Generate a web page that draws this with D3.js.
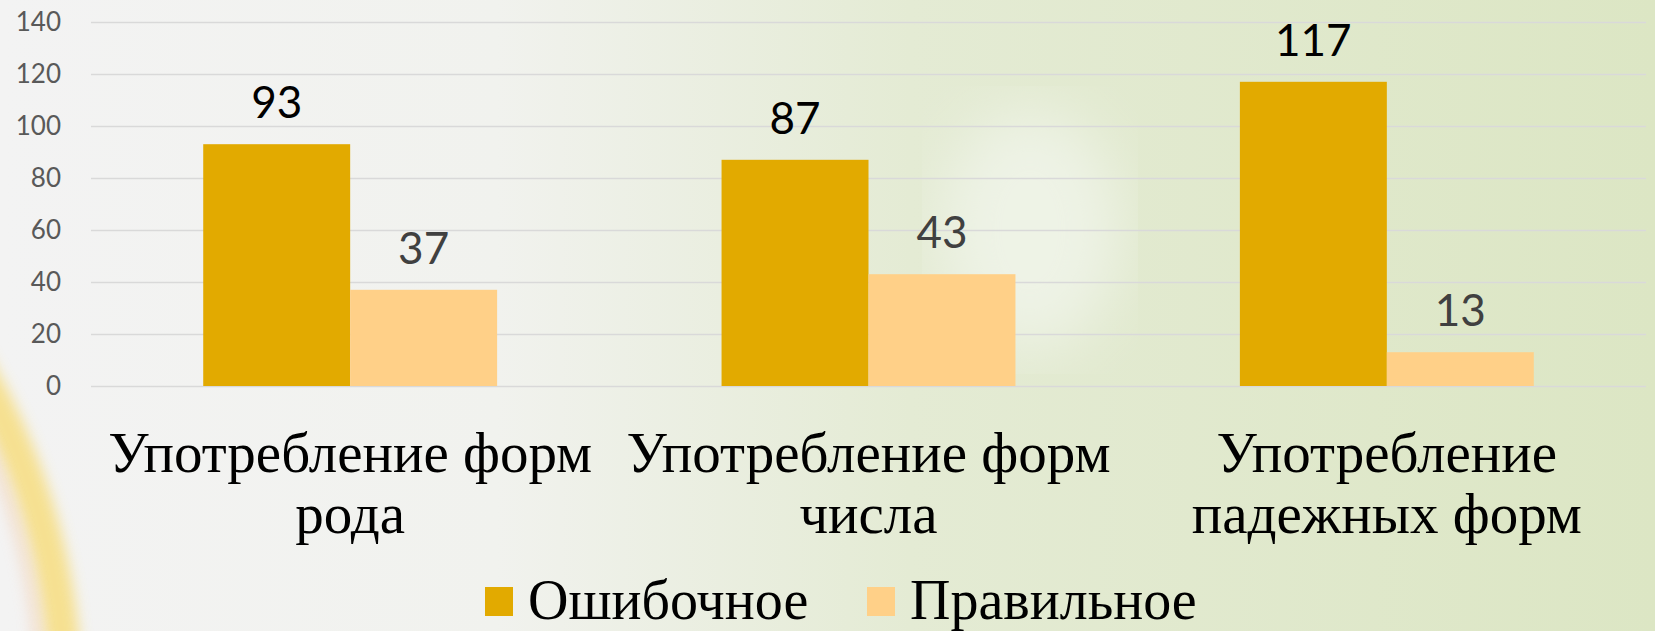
<!DOCTYPE html>
<html>
<head>
<meta charset="utf-8">
<script src="https://cdn.jsdelivr.net/npm/d3@7"></script>
<style>
  body { margin: 0; overflow: hidden; }
</style>
</head>
<body>
<div id="chart"></div>
<script>
const categories = [
  ["Употребление форм", "рода"],
  ["Употребление форм", "числа"],
  ["Употребление", "падежных форм"]
];
const seriesNames = ["Ошибочное", "Правильное"];
const errorValues = [93, 87, 117];
const correctValues = [37, 43, 13];
const yTicks = [0, 20, 40, 60, 80, 100, 120, 140];

const width = 1655, height = 631;
const margin = { top: 22, right: 9, bottom: 245, left: 91 };
const colors = ["#e2aa00", "#ffd088"];
const labelColors = ["#000000", "#404040"];

const svg = d3.select("#chart").append("svg")
  .attr("width", width)
  .attr("height", height);

// background
const defs = svg.append("defs");
const bg = defs.append("linearGradient").attr("id", "bg")
  .attr("x1", "0%").attr("x2", "100%").attr("y1", "0%").attr("y2", "0%");
bg.append("stop").attr("offset", "0%").attr("stop-color", "#f3f3f3");
bg.append("stop").attr("offset", "30%").attr("stop-color", "#f1f2ee");
bg.append("stop").attr("offset", "55%").attr("stop-color", "#e4ebd4");
bg.append("stop").attr("offset", "100%").attr("stop-color", "#dce6c4");
defs.append("filter").attr("id", "blur")
  .append("feGaussianBlur").attr("stdDeviation", 7);
defs.append("filter").attr("id", "blurBig")
  .append("feGaussianBlur").attr("stdDeviation", 30);

svg.append("rect").attr("width", width).attr("height", height).attr("fill", "url(#bg)");
svg.append("ellipse")
  .attr("cx", 1030).attr("cy", 230).attr("rx", 90).attr("ry", 120)
  .attr("fill", "#eef3e6").attr("filter", "url(#blurBig)");
// yellow ring at bottom-left
svg.append("circle")
  .attr("cx", -600).attr("cy", 700).attr("r", 665)
  .attr("fill", "none").attr("stroke", "#f7dc78").attr("stroke-width", 34)
  .attr("filter", "url(#blur)").attr("opacity", 0.8);
svg.append("circle")
  .attr("cx", -600).attr("cy", 700).attr("r", 640)
  .attr("fill", "none").attr("stroke", "#f2c6a4").attr("stroke-width", 8)
  .attr("filter", "url(#blur)").attr("opacity", 0.55);

const x0 = d3.scaleBand()
  .domain(d3.range(categories.length))
  .range([margin.left, width - margin.right])
  .paddingInner(0.433)
  .paddingOuter(0.2165);

const x1 = d3.scaleBand()
  .domain(d3.range(seriesNames.length))
  .range([0, x0.bandwidth()]);

const y = d3.scaleLinear()
  .domain([0, 140])
  .range([height - margin.bottom, margin.top]);

// grid + y axis
const yAxis = svg.append("g")
  .attr("transform", `translate(${margin.left},0)`)
  .call(d3.axisLeft(y).tickValues(yTicks).tickSize(-(width - margin.left - margin.right)).tickPadding(30));
yAxis.select(".domain").remove();
yAxis.selectAll(".tick line").attr("stroke", "#d9d9d9").attr("stroke-width", 1.5);
yAxis.selectAll(".tick text")
  .attr("fill", "#595959")
  .style("font-family", "Lato, 'Open Sans', sans-serif")
  .style("font-size", "26px");

const data = categories.map((c, i) => [errorValues[i], correctValues[i]]);

const groups = svg.selectAll(".group")
  .data(data)
  .enter()
  .append("g")
  .attr("class", "group")
  .attr("transform", (d, i) => `translate(${x0(i)},0)`);

groups.selectAll("rect")
  .data(d => d)
  .enter()
  .append("rect")
  .attr("x", (d, j) => x1(j))
  .attr("y", d => y(d))
  .attr("width", x1.bandwidth())
  .attr("height", d => y(0) - y(d))
  .attr("fill", (d, j) => colors[j]);

groups.selectAll(".value")
  .data(d => d)
  .enter()
  .append("text")
  .attr("class", "value")
  .attr("x", (d, j) => x1(j) + x1.bandwidth() / 2)
  .attr("y", d => y(d) - 26)
  .attr("text-anchor", "middle")
  .attr("fill", (d, j) => labelColors[j])
  .style("font-family", "Lato, 'Open Sans', sans-serif")
  .style("font-size", "44px")
  .text(d => d);

// category labels
const catLabels = svg.selectAll(".cat")
  .data(categories)
  .enter()
  .append("text")
  .attr("class", "cat")
  .attr("x", (d, i) => x0(i) + x0.bandwidth() / 2)
  .attr("y", 472)
  .attr("text-anchor", "middle")
  .attr("fill", "#000")
  .style("font-family", "'Liberation Serif', 'DejaVu Serif', serif")
  .style("font-size", "57px");
catLabels.selectAll("tspan")
  .data(d => d)
  .enter()
  .append("tspan")
  .attr("x", function () { return d3.select(this.parentNode).attr("x"); })
  .attr("dy", (d, k) => k === 0 ? 0 : 61)
  .text(d => d);

// legend
const legendX = [485, 867];
const legend = svg.selectAll(".legend")
  .data(seriesNames)
  .enter()
  .append("g")
  .attr("class", "legend")
  .attr("transform", (d, i) => `translate(${legendX[i]},587)`);
legend.append("rect")
  .attr("width", 28).attr("height", 29)
  .attr("fill", (d, i) => colors[i]);
legend.append("text")
  .attr("x", 43)
  .attr("y", 32)
  .attr("fill", "#000")
  .style("font-family", "'Liberation Serif', 'DejaVu Serif', serif")
  .style("font-size", "56px")
  .text(d => d);
</script>
</body>
</html>
